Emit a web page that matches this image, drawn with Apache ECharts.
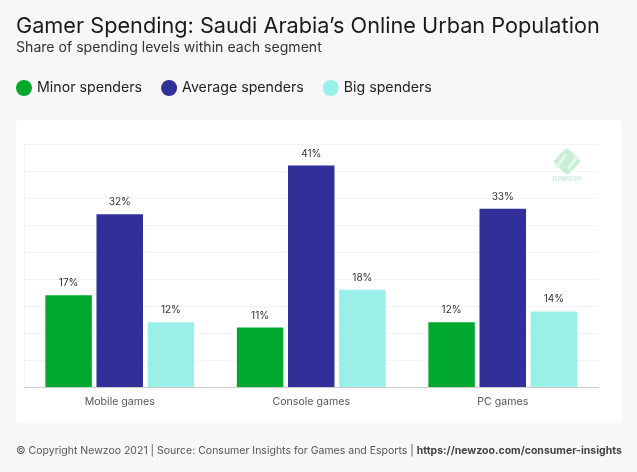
<!DOCTYPE html>
<html>
<head>
<meta charset="utf-8">
<title>Gamer Spending</title>
<script src="https://cdn.jsdelivr.net/npm/echarts@6/dist/echarts.min.js"></script>
<style>
html,body{margin:0;padding:0;background:#f7f7f7;}
#main{width:637px;height:472px;}
</style>
</head>
<body>
<div id="main"></div>
<script>
var categories = ['Mobile games', 'Console games', 'PC games'];
var minorValues = [17, 11, 12];
var averageValues = [32, 41, 33];
var bigValues = [12, 18, 14];
var seriesNames = ['Minor spenders', 'Average spenders', 'Big spenders'];
var seriesColors = ['#00a82d', '#312f98', '#9af0e8'];

var FONT = 'Inter';

function makeSeries(idx, values){
	return {
		name: seriesNames[idx],
		type: 'bar',
		data: values,
		barWidth: 46.5,
		barGap: '10%',
		itemStyle: {color: seriesColors[idx]},
		label: {
			show: true,
			position: 'top',
			distance: 7,
			formatter: '{c}%',
			fontFamily: FONT,
			fontSize: 10,
			color: '#333'
		}
	};
}

var chart = echarts.init(document.getElementById('main'), null, {renderer: 'canvas'});
chart.setOption({
	animation: false,
	backgroundColor: '#f7f7f7',
	title: [
		{left: 16, top: 15, padding: 0, text: 'Gamer Spending: Saudi Arabia’s Online Urban Population',
			textStyle: {fontFamily: FONT, fontSize: 21.7, fontWeight: 'normal', color: '#1a1a1a'}},
		{left: 16, top: 41, padding: 0, text: 'Share of spending levels within each segment',
			textStyle: {fontFamily: FONT, fontSize: 14.1, fontWeight: 'normal', color: '#333'}},
		{left: 16, top: 445, padding: 0,
			text: '{a|© Copyright Newzoo 2021 | Source: Consumer Insights for Games and Esports | }{b|https://newzoo.com/consumer-insights}',
			textStyle: {fontWeight: 'normal', rich: {
				a: {fontFamily: FONT, fontSize: 10.5, fontWeight: 'normal', color: '#555'},
				b: {fontFamily: FONT, fontSize: 10.5, fontWeight: 'bold', color: '#444'}
			}}}
	],
	legend: {
		left: 16, top: 80, padding: 0,
		icon: 'circle',
		itemWidth: 16, itemHeight: 16, itemGap: 19,
		data: seriesNames,
		selectedMode: false,
		textStyle: {fontFamily: FONT, fontSize: 14.2, color: '#222'}
	},
	grid: {left: 24, right: 38.5, top: 144, height: 243, containLabel: false},
	xAxis: {
		type: 'category',
		data: categories,
		axisTick: {show: false},
		axisLine: {lineStyle: {color: '#ccc', width: 1}},
		axisLabel: {fontFamily: FONT, fontSize: 10.6, color: '#555', margin: 9}
	},
	yAxis: {
		type: 'value',
		min: 0, max: 45, interval: 5,
		axisLabel: {show: false},
		axisTick: {show: false},
		axisLine: {show: true, lineStyle: {color: '#f3f3f3'}},
		splitLine: {lineStyle: {color: '#f3f3f3', width: 1}}
	},
	series: [
		makeSeries(0, minorValues),
		makeSeries(1, averageValues),
		makeSeries(2, bigValues)
	],
	graphic: [
		{type: 'rect', z: -10, shape: {x: 16, y: 120, width: 606, height: 303, r: 4}, style: {fill: '#fff'}},
		{type: 'rect', z: 5, x: 567, y: 161.5, rotation: Math.PI / 4,
			shape: {x: -10, y: -10, width: 20, height: 20, r: 3}, style: {fill: '#c9eed6'}},
		{type: 'line', z: 6, shape: {x1: 561, y1: 154, x2: 561, y2: 168}, style: {stroke: '#e6f8ec', lineWidth: 3, lineCap: 'round'}, rotation: -Math.PI / 5, originX: 561, originY: 161},
		{type: 'line', z: 6, shape: {x1: 573, y1: 155, x2: 573, y2: 169}, style: {stroke: '#e6f8ec', lineWidth: 3, lineCap: 'round'}, rotation: -Math.PI / 5, originX: 573, originY: 162},
		{type: 'text', z: 6, x: 567, y: 179, style: {text: 'newzoo', align: 'center', verticalAlign: 'middle', fontFamily: FONT, fontSize: 7.5, fontWeight: 'bold', fill: '#cdeed9'}}
	]
});
</script>
</body>
</html>
